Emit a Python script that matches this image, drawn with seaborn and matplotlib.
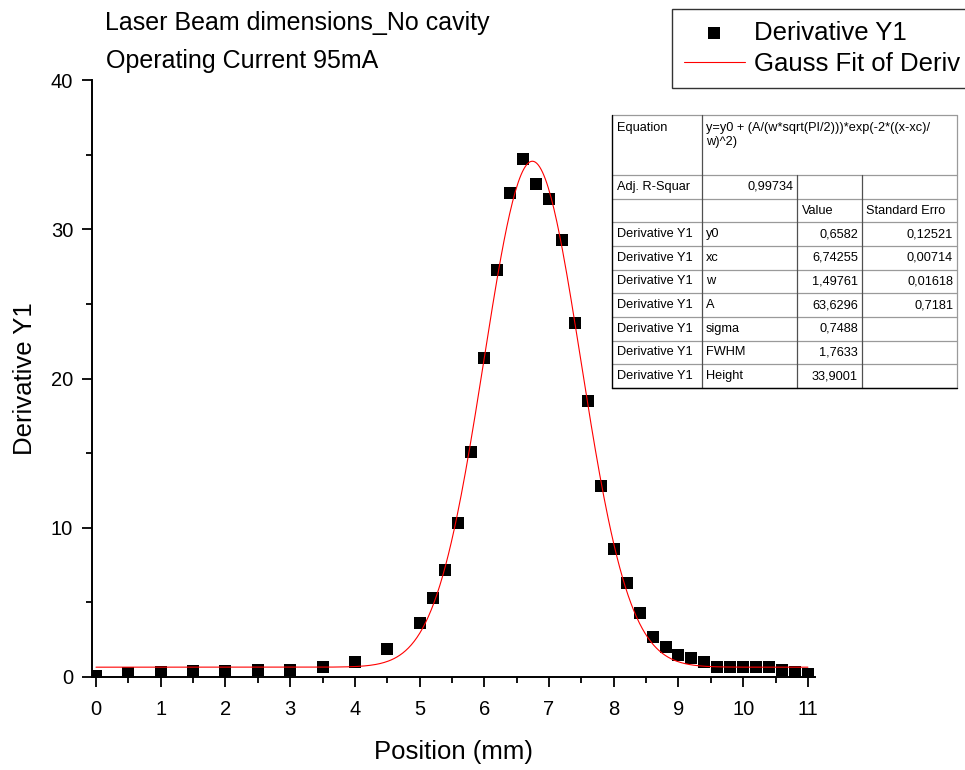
import numpy as np
import pandas as pd
import matplotlib
matplotlib.use("Agg")
import matplotlib.pyplot as plt
from matplotlib.ticker import MultipleLocator
import seaborn as sns

position_mm = [0, 0.5, 1, 1.5, 2, 2.5, 3, 3.5, 4, 4.5,
               5.0, 5.2, 5.4, 5.6, 5.8, 6.0, 6.2, 6.4, 6.6, 6.8,
               7.0, 7.2, 7.4, 7.6, 7.8, 8.0, 8.2, 8.4, 8.6, 8.8,
               9.0, 9.2, 9.4, 9.6, 9.8, 10.0, 10.2, 10.4, 10.6, 10.8, 11.0]
derivative_y1 = [0.1, 0.27, 0.33, 0.38, 0.4, 0.45, 0.5, 0.7, 1.0, 1.85,
                 3.6, 5.3, 7.2, 10.3, 15.1, 21.4, 27.3, 32.4, 34.7, 33.0,
                 32.0, 29.3, 23.7, 18.5, 12.8, 8.6, 6.3, 4.3, 2.7, 2.0,
                 1.45, 1.25, 1.0, 0.7, 0.7, 0.7, 0.7, 0.7, 0.47, 0.36, 0.18]

# Gauss fit parameters as printed in the chart's table
fit_y0 = 0.6582
fit_xc = 6.74255
fit_w = 1.49761
fit_A = 63.6296

# Table contents
param_names = ["y0", "xc", "w", "A", "sigma", "FWHM", "Height"]
param_values = ["0,6582", "6,74255", "1,49761", "63,6296", "0,7488", "1,7633", "33,9001"]
param_errors = ["0,12521", "0,00714", "0,01618", "0,7181", "", "", ""]
adj_r2 = "0,99734"

points_df = pd.DataFrame({"Position": position_mm, "Derivative Y1": derivative_y1})
fit_x = np.linspace(0, 11, 500)
fit_y = fit_y0 + (fit_A / (fit_w * np.sqrt(np.pi / 2))) * np.exp(-2 * ((fit_x - fit_xc) / fit_w) ** 2)
fit_df = pd.DataFrame({"Position": fit_x, "Fit": fit_y})

sns.set_theme(style="ticks")
plt.rcParams["font.family"] = ["Liberation Sans", "DejaVu Sans"]
plt.rcParams["text.color"] = "black"
plt.rcParams["axes.labelcolor"] = "black"

fig = plt.figure(figsize=(9.65, 7.7), dpi=100)
ax = fig.add_axes([92 / 965, 1 - 677 / 770, (815 - 92) / 965, (677 - 80) / 770])

sns.lineplot(data=fit_df, x="Position", y="Fit", color="red", linewidth=0.8,
             ax=ax, label="Gauss Fit of Deriv", zorder=3)
sns.scatterplot(data=points_df, x="Position", y="Derivative Y1", marker="s", s=85,
                color="black", linewidth=0, ax=ax, label="Derivative Y1", zorder=2)

ax.set_xlim(-0.062, 11.11)
ax.set_ylim(0, 40)
ax.xaxis.set_major_locator(MultipleLocator(1))
ax.xaxis.set_minor_locator(MultipleLocator(0.5))
ax.yaxis.set_major_locator(MultipleLocator(10))
ax.yaxis.set_minor_locator(MultipleLocator(5))
ax.tick_params(which="major", direction="out", length=7.5, width=1.3, labelsize=14.5, colors="black")
ax.tick_params(which="minor", direction="out", length=4.3, width=1.3, colors="black")
ax.tick_params(axis="x", which="major", pad=9)
ax.tick_params(axis="y", which="major", pad=6)
sns.despine(ax=ax)
for sp in ["left", "bottom"]:
    ax.spines[sp].set_linewidth(1.4)
    ax.spines[sp].set_color("black")
ax.set_xlabel("Position (mm)", fontsize=18.5, labelpad=15)
ax.set_ylabel("Derivative Y1", fontsize=18.5, labelpad=10)

fig.text(105 / 965, 1 - 23 / 770, "Laser Beam dimensions_No cavity", fontsize=18, va="center", ha="left")
fig.text(106 / 965, 1 - 61 / 770, "Operating Current 95mA", fontsize=18, va="center", ha="left")

# legend: scatter first, line second
handles, labels = ax.get_legend_handles_labels()
order = [labels.index("Derivative Y1"), labels.index("Gauss Fit of Deriv")]
leg = ax.legend([handles[i] for i in order], [labels[i] for i in order],
                loc="upper left", bbox_to_anchor=(672 / 965, 1 - 9 / 770),
                bbox_transform=fig.transFigure, fontsize=18.5, frameon=True,
                fancybox=False, edgecolor="black", borderaxespad=0,
                handlelength=2.4, handletextpad=0.35, borderpad=0.45, labelspacing=0.3)
leg.get_frame().set_linewidth(1.0)

# fit results table
tx0, ty0, tw, th = 612, 115, 345, 273
tab = fig.add_axes([tx0 / 965, 1 - (ty0 + th) / 770, tw / 965, th / 770])
tab.set_xlim(0, tw)
tab.set_ylim(th, 0)
tab.axis("off")
col_edges = [0, 90, 185, 250, tw]
eq_h = 60
row_h = (th - eq_h) / 9
row_edges = [0, eq_h] + [eq_h + row_h * (i + 1) for i in range(9)]
fs = 9.2
gray = "#9a9a9a"
dark = "#505050"

# horizontal lines
for yv in row_edges:
    tab.plot([0, tw], [yv, yv], color=gray, lw=0.9, clip_on=False)
# vertical lines
tab.plot([col_edges[1], col_edges[1]], [0, th], color=dark, lw=0.9, clip_on=False)
tab.plot([col_edges[2], col_edges[2]], [eq_h, th], color=dark, lw=0.9, clip_on=False)
tab.plot([col_edges[3], col_edges[3]], [eq_h, th], color=dark, lw=0.9, clip_on=False)
tab.plot([tw, tw], [0, th], color=gray, lw=0.9, clip_on=False)
tab.plot([0, 0], [0, th], color="black", lw=1.0, clip_on=False)
tab.plot([0, tw], [th, th], color="black", lw=1.0, clip_on=False)

tab.text(5, 7, "Equation", fontsize=fs, va="top")
tab.text(col_edges[1] + 4, 7, "y=y0 + (A/(w*sqrt(PI/2)))*exp(-2*((x-xc)/\nw)^2)",
         fontsize=fs, va="top", linespacing=1.25)
yc = eq_h + row_h / 2
tab.text(5, yc, "Adj. R-Squar", fontsize=fs, va="center")
tab.text(col_edges[2] - 4, yc, adj_r2, fontsize=fs, va="center", ha="right")
yc += row_h
tab.text(col_edges[2] + 5, yc, "Value", fontsize=fs, va="center")
tab.text(col_edges[3] + 4, yc, "Standard Erro", fontsize=fs, va="center")
for name, val, err in zip(param_names, param_values, param_errors):
    yc += row_h
    tab.text(5, yc, "Derivative Y1", fontsize=fs, va="center")
    tab.text(col_edges[1] + 4, yc, name, fontsize=fs, va="center")
    tab.text(col_edges[3] - 4, yc, val, fontsize=fs, va="center", ha="right")
    if err:
        tab.text(tw - 4, yc, err, fontsize=fs, va="center", ha="right")

fig.savefig("out.png", dpi=100)
